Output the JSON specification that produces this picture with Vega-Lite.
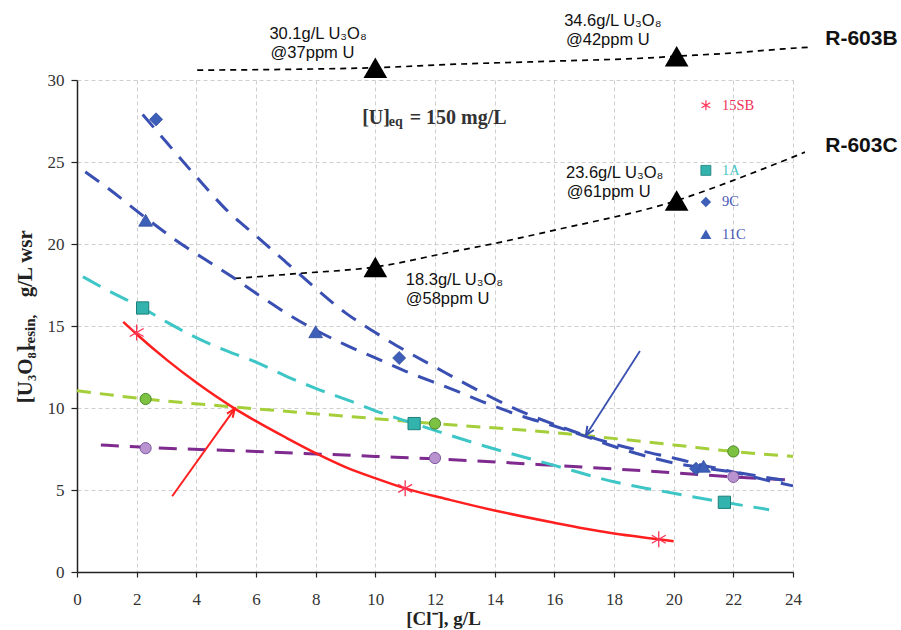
{
  "$schema": "https://vega.github.io/schema/vega-lite/v6.json",
  "width": 716,
  "height": 492,
  "autosize": {"type": "none"},
  "padding": {"left": 77, "top": 80, "right": 108, "bottom": 58},
  "background": "white",
  "config": {"view": {"stroke": null}},
  "datasets": {
    "lines": [
      {"s": "15SB", "x": 1.55, "y": 15.25}, {"s": "15SB", "x": 2, "y": 14.5}, {"s": "15SB", "x": 3, "y": 12.95}, {"s": "15SB", "x": 4, "y": 11.55}, {"s": "15SB", "x": 5.3, "y": 9.95}, {"s": "15SB", "x": 6, "y": 9.2}, {"s": "15SB", "x": 7, "y": 8.2}, {"s": "15SB", "x": 8, "y": 7.25}, {"s": "15SB", "x": 9, "y": 6.4}, {"s": "15SB", "x": 10, "y": 5.72}, {"s": "15SB", "x": 11, "y": 5.1}, {"s": "15SB", "x": 12.5, "y": 4.4}, {"s": "15SB", "x": 14, "y": 3.75}, {"s": "15SB", "x": 16, "y": 3.0}, {"s": "15SB", "x": 17, "y": 2.65}, {"s": "15SB", "x": 18, "y": 2.35}, {"s": "15SB", "x": 19.5, "y": 2.0}, {"s": "15SB", "x": 20, "y": 1.88},
      {"s": "1A", "x": 0.2, "y": 18.0}, {"s": "1A", "x": 1, "y": 17.2}, {"s": "1A", "x": 2.2, "y": 16.1}, {"s": "1A", "x": 3, "y": 15.25}, {"s": "1A", "x": 4.1, "y": 14.2}, {"s": "1A", "x": 5, "y": 13.5}, {"s": "1A", "x": 6, "y": 12.8}, {"s": "1A", "x": 7, "y": 11.95}, {"s": "1A", "x": 8, "y": 11.2}, {"s": "1A", "x": 9.2, "y": 10.4}, {"s": "1A", "x": 10.2, "y": 9.7}, {"s": "1A", "x": 11.3, "y": 9.05}, {"s": "1A", "x": 12.3, "y": 8.45}, {"s": "1A", "x": 14, "y": 7.5}, {"s": "1A", "x": 16, "y": 6.5}, {"s": "1A", "x": 18, "y": 5.5}, {"s": "1A", "x": 20, "y": 4.8}, {"s": "1A", "x": 21.7, "y": 4.25}, {"s": "1A", "x": 23.2, "y": 3.8},
      {"s": "9C", "x": 2.2, "y": 27.9}, {"s": "9C", "x": 3, "y": 26.2}, {"s": "9C", "x": 4, "y": 24.1}, {"s": "9C", "x": 5, "y": 22.1}, {"s": "9C", "x": 6, "y": 20.5}, {"s": "9C", "x": 7, "y": 18.9}, {"s": "9C", "x": 8, "y": 17.3}, {"s": "9C", "x": 9, "y": 15.8}, {"s": "9C", "x": 10, "y": 14.6}, {"s": "9C", "x": 11, "y": 13.5}, {"s": "9C", "x": 12, "y": 12.5}, {"s": "9C", "x": 13, "y": 11.5}, {"s": "9C", "x": 14, "y": 10.55}, {"s": "9C", "x": 15, "y": 9.7}, {"s": "9C", "x": 16, "y": 9.0}, {"s": "9C", "x": 17, "y": 8.35}, {"s": "9C", "x": 18, "y": 7.8}, {"s": "9C", "x": 19, "y": 7.35}, {"s": "9C", "x": 20, "y": 6.95}, {"s": "9C", "x": 21, "y": 6.5}, {"s": "9C", "x": 22, "y": 6.1}, {"s": "9C", "x": 23, "y": 5.65}, {"s": "9C", "x": 24, "y": 5.25},
      {"s": "11C", "x": 0.28, "y": 24.4}, {"s": "11C", "x": 1, "y": 23.45}, {"s": "11C", "x": 2.3, "y": 21.6}, {"s": "11C", "x": 3.3, "y": 20.25}, {"s": "11C", "x": 4.3, "y": 19.05}, {"s": "11C", "x": 5.2, "y": 18.0}, {"s": "11C", "x": 6, "y": 17.0}, {"s": "11C", "x": 7, "y": 15.8}, {"s": "11C", "x": 8, "y": 14.75}, {"s": "11C", "x": 9, "y": 13.85}, {"s": "11C", "x": 10, "y": 13.05}, {"s": "11C", "x": 11, "y": 12.25}, {"s": "11C", "x": 12.5, "y": 11.2}, {"s": "11C", "x": 14, "y": 10.1}, {"s": "11C", "x": 15, "y": 9.45}, {"s": "11C", "x": 16, "y": 8.9}, {"s": "11C", "x": 17, "y": 8.3}, {"s": "11C", "x": 18, "y": 7.65}, {"s": "11C", "x": 19, "y": 7.1}, {"s": "11C", "x": 20, "y": 6.65}, {"s": "11C", "x": 21, "y": 6.35}, {"s": "11C", "x": 22, "y": 6.1}, {"s": "11C", "x": 23, "y": 5.8}, {"s": "11C", "x": 24, "y": 5.5},
      {"s": "G", "x": 0, "y": 11.05}, {"s": "G", "x": 2.3, "y": 10.55}, {"s": "G", "x": 6, "y": 9.95}, {"s": "G", "x": 10, "y": 9.35}, {"s": "G", "x": 12, "y": 9.05}, {"s": "G", "x": 16, "y": 8.5}, {"s": "G", "x": 20, "y": 7.75}, {"s": "G", "x": 22, "y": 7.35}, {"s": "G", "x": 24, "y": 7.05},
      {"s": "P", "x": 0.8, "y": 7.75}, {"s": "P", "x": 2.3, "y": 7.6}, {"s": "P", "x": 6, "y": 7.35}, {"s": "P", "x": 10, "y": 7.05}, {"s": "P", "x": 12, "y": 6.9}, {"s": "P", "x": 16, "y": 6.5}, {"s": "P", "x": 20, "y": 6.05}, {"s": "P", "x": 22, "y": 5.8}, {"s": "P", "x": 24, "y": 5.6},
      {"s": "B", "x": 4.03, "y": 30.6}, {"s": "B", "x": 10, "y": 30.75}, {"s": "B", "x": 12.5, "y": 30.95}, {"s": "B", "x": 16, "y": 31.15}, {"s": "B", "x": 19.2, "y": 31.35}, {"s": "B", "x": 20.1, "y": 31.45}, {"s": "B", "x": 22, "y": 31.65}, {"s": "B", "x": 23.7, "y": 31.9}, {"s": "B", "x": 24.55, "y": 32.0},
      {"s": "C", "x": 5.3, "y": 17.9}, {"s": "C", "x": 7.4, "y": 18.2}, {"s": "C", "x": 10, "y": 18.6}, {"s": "C", "x": 12.5, "y": 19.5}, {"s": "C", "x": 13.9, "y": 20.0}, {"s": "C", "x": 15.9, "y": 20.8}, {"s": "C", "x": 20.1, "y": 22.65}, {"s": "C", "x": 22.6, "y": 24.3}, {"s": "C", "x": 24.4, "y": 25.6}
    ],
    "marks": [
      {"s": "15SB", "x": 2, "y": 14.6}, {"s": "15SB", "x": 11, "y": 5.1}, {"s": "15SB", "x": 19.5, "y": 2.0},
      {"s": "1A", "x": 2.2, "y": 16.1}, {"s": "1A", "x": 11.3, "y": 9.05}, {"s": "1A", "x": 21.7, "y": 4.25},
      {"s": "9C", "x": 2.65, "y": 27.6}, {"s": "9C", "x": 10.8, "y": 13.05}, {"s": "9C", "x": 20.75, "y": 6.3},
      {"s": "11C", "x": 2.3, "y": 21.45}, {"s": "11C", "x": 8, "y": 14.65}, {"s": "11C", "x": 21.0, "y": 6.45},
      {"s": "G", "x": 2.3, "y": 10.55}, {"s": "G", "x": 12, "y": 9.05}, {"s": "G", "x": 22, "y": 7.35},
      {"s": "P", "x": 2.3, "y": 7.55}, {"s": "P", "x": 12, "y": 6.95}, {"s": "P", "x": 22, "y": 5.8},
      {"s": "T", "x": 10, "y": 30.75}, {"s": "T", "x": 20.1, "y": 31.45}, {"s": "T", "x": 10, "y": 18.6}, {"s": "T", "x": 20.1, "y": 22.65}
    ],
    "legmarks": [
      {"s": "15SB", "x": 21.08, "y": 28.46}, {"s": "1A", "x": 21.08, "y": 24.49}, {"s": "9C", "x": 21.08, "y": 22.56}, {"s": "11C", "x": 21.08, "y": 20.59}
    ],
    "legtext": [
      {"s": "15SB", "t": "15SB", "x": 21.62, "y": 28.15}, {"s": "1A", "t": "1A", "x": 21.62, "y": 24.23}, {"s": "9C", "t": "9C", "x": 21.62, "y": 22.32}, {"s": "11C", "t": "11C", "x": 21.62, "y": 20.33}
    ],
    "arrows": [
      {"s": "red", "x": 3.19, "y": 4.62, "x2": 5.29, "y2": 9.96},
      {"s": "blue", "x": 18.87, "y": 13.48, "x2": 17.06, "y2": 8.34}
    ],
    "notes": [
      {"t": "30.1g/L U₃O₈", "x": 6.45, "y": 32.48}, {"t": "@37ppm U", "x": 6.49, "y": 31.37},
      {"t": "34.6g/L U₃O₈", "x": 16.33, "y": 33.27}, {"t": "@42ppm U", "x": 16.39, "y": 32.12},
      {"t": "23.6g/L U₃O₈", "x": 16.39, "y": 24.02}, {"t": "@61ppm U", "x": 16.42, "y": 22.87},
      {"t": "18.3g/L U₃O₈", "x": 11.02, "y": 17.48}, {"t": "@58ppm U", "x": 11.02, "y": 16.32}
    ],
    "rlabels": [
      {"t": "R-603B", "x": 25.08, "y": 32.12}, {"t": "R-603C", "x": 25.08, "y": 25.61}
    ],
    "eqbig": [
      {"t": "[U]", "x": 9.56, "y": 27.34}, {"t": "= 150 mg/L", "x": 11.15, "y": 27.34}
    ],
    "eqsmall": [
      {"t": "eq", "x": 10.45, "y": 27.18}
    ],
    "ybig": [
      {"t": "[U₃O₈]", "x": -1.52, "y": 10.29}, {"t": "g/L wsr", "x": -1.52, "y": 16.75}
    ],
    "ysmall": [
      {"t": "resin,", "x": -1.42, "y": 13.55}
    ]
  },
  "encoding": {
    "x": {"field": "x", "type": "quantitative", "scale": {"domain": [0, 24], "nice": false, "zero": false},
      "axis": {"values": [0, 2, 4, 6, 8, 10, 12, 14, 16, 18, 20, 22, 24], "grid": true, "gridDash": [4, 3], "gridColor": "#cfcfcf", "gridWidth": 1,
        "domainColor": "#222", "domainWidth": 1.5, "tickColor": "#222", "tickSize": 5, "tickWidth": 1.2,
        "labelFont": "Liberation Serif", "labelFontSize": 17, "labelColor": "#333", "labelPadding": 14, "labelFlush": false,
        "title": "[Cl⁻], g/L", "titleFont": "Liberation Serif", "titleFontSize": 19, "titleFontWeight": "bold", "titleColor": "#222",
        "titleX": 366, "titleY": 52, "titleBaseline": "alphabetic", "titleAlign": "center"}},
    "y": {"field": "y", "type": "quantitative", "scale": {"domain": [0, 30], "nice": false, "zero": false},
      "axis": {"values": [0, 5, 10, 15, 20, 25, 30], "grid": true, "gridDash": [4, 3], "gridColor": "#cfcfcf", "gridWidth": 1,
        "domainColor": "#222", "domainWidth": 1.5, "tickColor": "#222", "tickSize": 6, "tickWidth": 1.2,
        "labelFont": "Liberation Serif", "labelFontSize": 17, "labelColor": "#333", "labelPadding": 7, "labelFlush": false,
        "title": null}}
  },
  "layer": [
    {"data": {"name": "lines"}, "transform": [{"filter": "datum.s == 'B' || datum.s == 'C'"}],
      "mark": {"type": "line", "stroke": "#000", "strokeWidth": 1.7, "strokeDash": [6, 5], "interpolate": "monotone"},
      "encoding": {"detail": {"field": "s"}, "order": {"field": "x", "type": "quantitative"}}},
    {"data": {"name": "lines"}, "transform": [{"filter": "datum.s == 'G'"}],
      "mark": {"type": "line", "strokeWidth": 3, "stroke": "#A5CF3A", "strokeDash": [14, 9], "interpolate": "monotone"},
      "encoding": {"order": {"field": "x", "type": "quantitative"}}},
    {"data": {"name": "lines"}, "transform": [{"filter": "datum.s == 'P'"}],
      "mark": {"type": "line", "strokeWidth": 3, "stroke": "#7E2A8E", "strokeDash": [18, 11], "interpolate": "monotone"},
      "encoding": {"order": {"field": "x", "type": "quantitative"}}},
    {"data": {"name": "lines"}, "transform": [{"filter": "datum.s == '1A'"}],
      "mark": {"type": "line", "strokeWidth": 3, "stroke": "#3EC6C6", "strokeDash": [20, 11], "interpolate": "monotone"},
      "encoding": {"order": {"field": "x", "type": "quantitative"}}},
    {"data": {"name": "lines"}, "transform": [{"filter": "datum.s == '9C' || datum.s == '11C'"}],
      "mark": {"type": "line", "strokeWidth": 3, "stroke": "#3A4FB2", "strokeDash": [17, 11], "interpolate": "monotone"},
      "encoding": {"detail": {"field": "s"}, "order": {"field": "x", "type": "quantitative"}}},
    {"data": {"name": "lines"}, "transform": [{"filter": "datum.s == '15SB'"}],
      "mark": {"type": "line", "strokeWidth": 2.5, "stroke": "#FF1F1F", "interpolate": "monotone"},
      "encoding": {"order": {"field": "x", "type": "quantitative"}}},
    {"data": {"name": "arrows"}, "transform": [{"filter": "datum.s == 'red'"}],
      "mark": {"type": "rule", "stroke": "#FF2020", "strokeWidth": 2},
      "encoding": {"x2": {"field": "x2"}, "y2": {"field": "y2"}}},
    {"data": {"name": "arrows"}, "transform": [{"filter": "datum.s == 'blue'"}],
      "mark": {"type": "rule", "stroke": "#3A50B0", "strokeWidth": 1.8},
      "encoding": {"x2": {"field": "x2"}, "y2": {"field": "y2"}}},
    {"data": {"name": "arrows"}, "transform": [{"filter": "datum.s == 'red'"}],
      "mark": {"type": "point", "shape": "M-0.4,1L0,0L0.4,1", "filled": false, "stroke": "#FF2020", "strokeWidth": 2, "size": 300, "angle": 35.5, "opacity": 1},
      "encoding": {"x": {"field": "x2", "type": "quantitative"}, "y": {"field": "y2", "type": "quantitative"}}},
    {"data": {"name": "arrows"}, "transform": [{"filter": "datum.s == 'blue'"}],
      "mark": {"type": "point", "shape": "M-0.45,1L0,0L0.45,1", "filled": false, "stroke": "#3A50B0", "strokeWidth": 2, "size": 300, "angle": 212.6, "opacity": 1},
      "encoding": {"x": {"field": "x2", "type": "quantitative"}, "y": {"field": "y2", "type": "quantitative"}}},
    {"data": {"name": "marks"}, "transform": [{"filter": "datum.s == '15SB'"}],
      "mark": {"type": "point", "shape": "M0,-1L0,1M-0.87,-0.5L0.87,0.5M-0.87,0.5L0.87,-0.5", "filled": false, "stroke": "#FF3355", "strokeWidth": 1.3, "size": 256, "opacity": 1}},
    {"data": {"name": "marks"}, "transform": [{"filter": "datum.s == '1A'"}],
      "mark": {"type": "point", "shape": "square", "filled": true, "fill": "#33B3AE", "stroke": "#1E7F7A", "strokeWidth": 1, "size": 150, "opacity": 1}},
    {"data": {"name": "marks"}, "transform": [{"filter": "datum.s == '9C'"}],
      "mark": {"type": "point", "shape": "diamond", "filled": true, "fill": "#3D5FB8", "stroke": "#34509f", "strokeWidth": 0.8, "size": 170, "opacity": 1}},
    {"data": {"name": "marks"}, "transform": [{"filter": "datum.s == '11C'"}],
      "mark": {"type": "point", "shape": "triangle-up", "filled": true, "fill": "#3D5FB8", "stroke": "#34509f", "strokeWidth": 0.8, "size": 190, "opacity": 1}},
    {"data": {"name": "marks"}, "transform": [{"filter": "datum.s == 'G'"}],
      "mark": {"type": "point", "shape": "circle", "filled": true, "fill": "#7CC142", "stroke": "#4A8A2A", "strokeWidth": 1, "size": 125, "opacity": 1}},
    {"data": {"name": "marks"}, "transform": [{"filter": "datum.s == 'P'"}],
      "mark": {"type": "point", "shape": "circle", "filled": true, "fill": "#B893D0", "stroke": "#7F5A9E", "strokeWidth": 1, "size": 125, "opacity": 1}},
    {"data": {"name": "marks"}, "transform": [{"filter": "datum.s == 'T'"}],
      "mark": {"type": "point", "shape": "triangle-up", "filled": true, "fill": "#000", "size": 560, "opacity": 1}},
    {"data": {"name": "legmarks"}, "transform": [{"filter": "datum.s == '15SB'"}],
      "mark": {"type": "point", "shape": "M0,-1L0,1M-0.87,-0.5L0.87,0.5M-0.87,0.5L0.87,-0.5", "filled": false, "stroke": "#FF3355", "strokeWidth": 1.2, "size": 100, "opacity": 1}},
    {"data": {"name": "legmarks"}, "transform": [{"filter": "datum.s == '1A'"}],
      "mark": {"type": "point", "shape": "square", "filled": true, "fill": "#33B3AE", "stroke": "#1E7F7A", "strokeWidth": 0.8, "size": 100, "opacity": 1}},
    {"data": {"name": "legmarks"}, "transform": [{"filter": "datum.s == '9C'"}],
      "mark": {"type": "point", "shape": "diamond", "filled": true, "fill": "#3D5FB8", "size": 110, "opacity": 1}},
    {"data": {"name": "legmarks"}, "transform": [{"filter": "datum.s == '11C'"}],
      "mark": {"type": "point", "shape": "triangle-up", "filled": true, "fill": "#3D5FB8", "size": 120, "opacity": 1}},
    {"data": {"name": "legtext"},
      "mark": {"type": "text", "align": "left", "baseline": "alphabetic", "font": "Liberation Serif", "fontSize": 14.5},
      "encoding": {"text": {"field": "t"},
        "color": {"field": "s", "type": "nominal", "scale": {"domain": ["15SB", "1A", "9C", "11C"], "range": ["#F0305A", "#4CC4C4", "#4657B5", "#4657B5"]}, "legend": null}}},
    {"data": {"name": "notes"},
      "mark": {"type": "text", "align": "left", "baseline": "alphabetic", "font": "Liberation Sans", "fontSize": 16.5, "color": "#111"},
      "encoding": {"text": {"field": "t"}}},
    {"data": {"name": "rlabels"},
      "mark": {"type": "text", "align": "left", "baseline": "alphabetic", "font": "Liberation Sans", "fontSize": 21, "fontWeight": "bold", "color": "#111"},
      "encoding": {"text": {"field": "t"}}},
    {"data": {"name": "eqbig"},
      "mark": {"type": "text", "align": "left", "baseline": "alphabetic", "font": "Liberation Serif", "fontSize": 20, "fontWeight": "bold", "color": "#333"},
      "encoding": {"text": {"field": "t"}}},
    {"data": {"name": "eqsmall"},
      "mark": {"type": "text", "align": "left", "baseline": "alphabetic", "font": "Liberation Serif", "fontSize": 14, "fontWeight": "bold", "color": "#333"},
      "encoding": {"text": {"field": "t"}}},
    {"data": {"name": "ybig"},
      "mark": {"type": "text", "align": "left", "baseline": "alphabetic", "angle": 270, "font": "Liberation Serif", "fontSize": 21, "fontWeight": "bold", "color": "#222"},
      "encoding": {"text": {"field": "t"}}},
    {"data": {"name": "ysmall"},
      "mark": {"type": "text", "align": "left", "baseline": "alphabetic", "angle": 270, "font": "Liberation Serif", "fontSize": 15, "fontWeight": "bold", "color": "#222"},
      "encoding": {"text": {"field": "t"}}}
  ]
}
